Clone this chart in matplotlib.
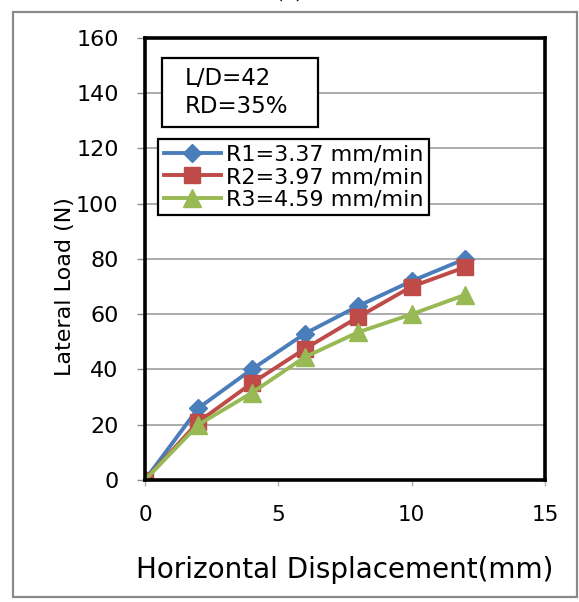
import matplotlib.pyplot as plt
from matplotlib.patches import Rectangle

# data
disp = [0, 2, 4, 6, 8, 10, 12]
r1 = [0, 26, 40, 53, 63, 72, 80]
r2 = [0, 21, 35, 47.5, 59, 70, 77]
r3 = [0, 20, 31.5, 44.5, 53.5, 60, 67]
labels = ["R1=3.37 mm/min", "R2=3.97 mm/min", "R3=4.59 mm/min"]

plt.rcParams['font.family'] = ['DejaVu Sans']

fig = plt.figure(figsize=(5.79, 6.02), dpi=100)
ax = fig.add_axes([0.2504, 0.2027, 0.6908, 0.7342])

ax.plot(disp, r1, color='#4A7EBB', lw=2.8, marker='D', ms=9, label=labels[0], zorder=3)
ax.plot(disp, r2, color='#BE4B48', lw=2.8, marker='s', ms=12, label=labels[1], zorder=3)
ax.plot(disp, r3, color='#98B954', lw=2.8, marker='^', ms=13, label=labels[2], zorder=3)

ax.set_xlim(0, 15)
ax.set_ylim(0, 160)
ax.set_xticks([0, 5, 10, 15])
ax.set_yticks(range(0, 161, 20))
ax.grid(axis='y', color='#a6a6a6', lw=1.3)
ax.set_axisbelow(True)
for s in ax.spines.values():
    s.set_linewidth(2.6)
    s.set_color('black')
    s.set_zorder(4)
ax.tick_params(axis='y', length=6, width=1, color='#8c8c8c', labelsize=16, pad=13)
ax.tick_params(axis='x', length=4, width=1, color='#b0b0b0', labelsize=15.5, pad=14)

ax.set_xlabel("Horizontal Displacement(mm)", fontsize=20, labelpad=22)
ax.set_ylabel("Lateral Load (N)", fontsize=16)
ax.yaxis.set_label_coords(-0.175, 0.437)

# L/D and RD box
ax.add_patch(Rectangle((0.0425, 0.7986), 0.39, 0.1562, transform=ax.transAxes,
                       fc='white', ec='black', lw=1.6, zorder=5))
ax.text(0.1, 0.8767, "L/D=42\nRD=35%", transform=ax.transAxes, fontsize=16.5,
        va='center', ha='left', linespacing=1.25, zorder=6)

leg = ax.legend(loc='upper left', bbox_to_anchor=(0.0325, 0.7715), fontsize=16,
                frameon=True, fancybox=False, borderpad=0.25, labelspacing=0.12,
                handlelength=2.6, handletextpad=0.2, borderaxespad=0, framealpha=1)
leg.get_frame().set_edgecolor('black')
leg.get_frame().set_linewidth(1.6)
leg.set_zorder(6)

fig.patches.append(Rectangle((0.0225, 0.0083), 0.974, 0.9717, transform=fig.transFigure,
                             fill=False, ec='#8a8a8a', lw=1.6))
fig.text(0.5, 1.014, "(c)", ha='center', va='center', fontsize=16, family='DejaVu Serif')

fig.savefig("out.png", dpi=100)
